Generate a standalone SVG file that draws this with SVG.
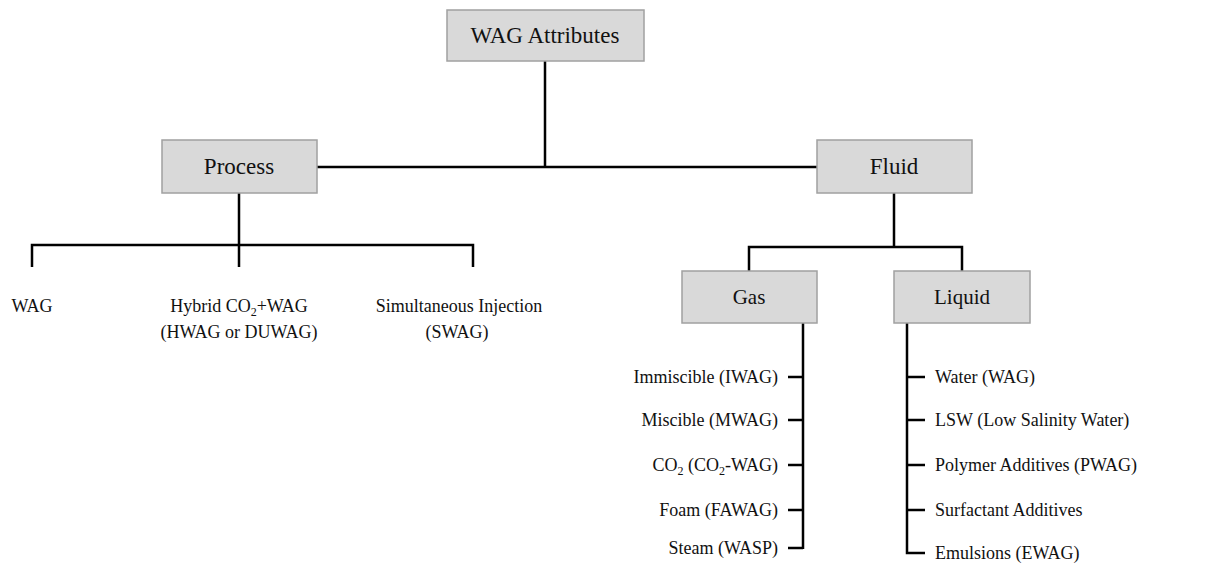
<svg xmlns="http://www.w3.org/2000/svg" width="1215" height="567" viewBox="0 0 1215 567">
<style>
.box{fill:#d9d9d9;stroke:#a0a0a0;stroke-width:1.5}
.bt{font-family:"Liberation Serif","Times New Roman",serif;font-size:23px;fill:#111;text-anchor:middle}
.bt2{font-family:"Liberation Serif","Times New Roman",serif;font-size:21px;fill:#111;text-anchor:middle}
.lt{font-family:"Liberation Serif","Times New Roman",serif;font-size:18px;fill:#111}
.m{text-anchor:middle}
.e{text-anchor:end}
.c{fill:none;stroke:#000;stroke-width:2.5}
</style>
<rect width="1215" height="567" fill="#fff"/>
<g id="connectors">
<path class="c" d="M545 61V167M317 167H817"/>
<path class="c" d="M239 193V245M32 267V245H473V267M239 245V267"/>
<path class="c" d="M894 193V247M749 271V247H962V271"/>
<path class="c" d="M803 323V549M788 377H803M788 420H803M788 465H803M788 510H803M788 548H803"/>
<path class="c" d="M907 323V553H925M907 377H925M907 420H925M907 465H925M907 510H925"/>
</g>
<g id="wag-attributes"><rect class="box" x="447" y="10" width="197" height="51"/><text class="bt" x="545" y="43">WAG Attributes</text></g>
<g id="process"><rect class="box" x="162" y="140" width="155" height="53"/><text class="bt" x="239" y="174">Process</text></g>
<g id="fluid"><rect class="box" x="817" y="140" width="155" height="53"/><text class="bt" x="894" y="174">Fluid</text></g>
<g id="gas"><rect class="box" x="682" y="271" width="135" height="52"/><text class="bt2" x="749" y="304">Gas</text></g>
<g id="liquid"><rect class="box" x="894" y="271" width="136" height="52"/><text class="bt2" x="962" y="304">Liquid</text></g>
<g id="p-wag"><text class="lt m" x="32" y="312">WAG</text></g>
<g id="p-hybrid"><text class="lt m" x="239" y="312">Hybrid CO<tspan font-size="12" dy="4">2</tspan><tspan dy="-4">+WAG</tspan></text><text class="lt m" x="239" y="338">(HWAG or DUWAG)</text></g>
<g id="p-swag"><text class="lt m" x="459" y="312">Simultaneous Injection</text><text class="lt m" x="457" y="338">(SWAG)</text></g>
<g id="g-iwag"><text class="lt e" x="778" y="383">Immiscible (IWAG)</text></g>
<g id="g-mwag"><text class="lt e" x="778" y="426">Miscible (MWAG)</text></g>
<g id="g-co2"><text class="lt e" x="778" y="471">CO<tspan font-size="12" dy="4">2</tspan><tspan dy="-4"> (CO</tspan><tspan font-size="12" dy="4">2</tspan><tspan dy="-4">-WAG)</tspan></text></g>
<g id="g-fawag"><text class="lt e" x="778" y="516">Foam (FAWAG)</text></g>
<g id="g-wasp"><text class="lt e" x="778" y="554">Steam (WASP)</text></g>
<g id="l-water"><text class="lt" x="935" y="383">Water (WAG)</text></g>
<g id="l-lsw"><text class="lt" x="935" y="426">LSW (Low Salinity Water)</text></g>
<g id="l-pwag"><text class="lt" x="935" y="471">Polymer Additives (PWAG)</text></g>
<g id="l-surf"><text class="lt" x="935" y="516">Surfactant Additives</text></g>
<g id="l-ewag"><text class="lt" x="935" y="559">Emulsions (EWAG)</text></g>
</svg>
